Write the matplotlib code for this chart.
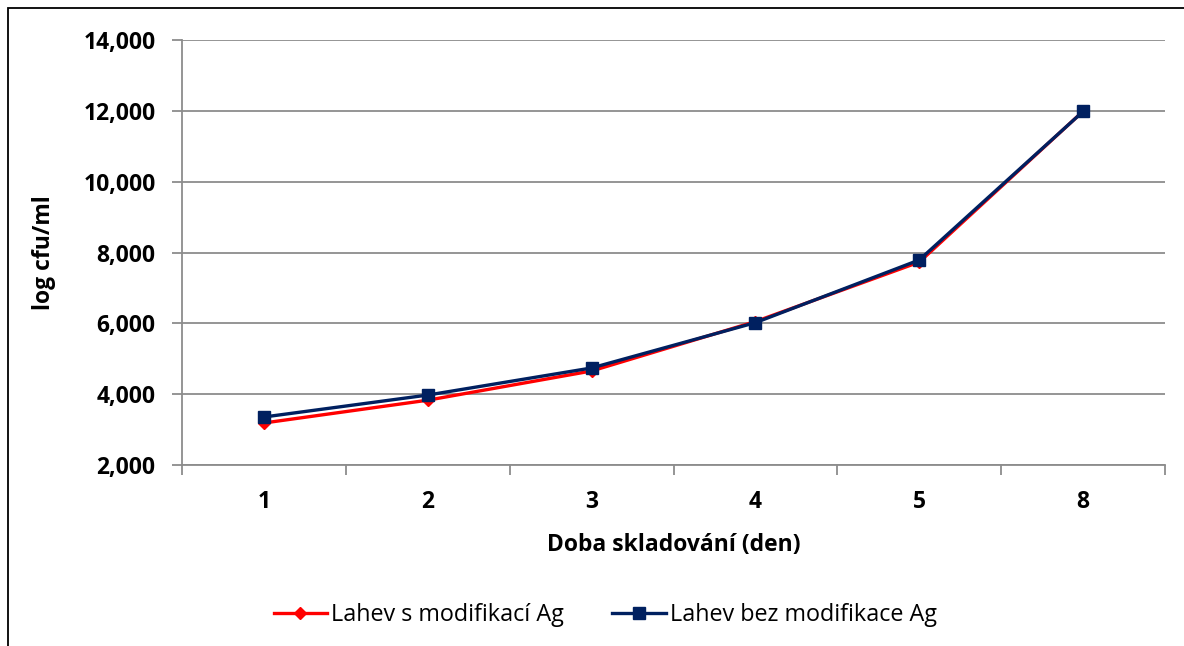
import matplotlib.pyplot as plt
from matplotlib.patches import Rectangle
from matplotlib.ticker import FuncFormatter

days = ['1', '2', '3', '4', '5', '8']
s_ag = [3186, 3830, 4655, 6050, 7730, 11990]      # Lahev s modifikací Ag
bez_ag = [3355, 3975, 4740, 6020, 7790, 11985]    # Lahev bez modifikace Ag

plt.rcParams['font.family'] = ['Open Sans', 'DejaVu Sans']

fig = plt.figure(figsize=(11.84, 6.46), dpi=100)
ax = fig.add_axes([0.1537, 0.2802, 0.8303, 0.6578])

x = list(range(len(days)))
ax.plot(x, s_ag, color='#ff0000', lw=2.4, marker='D', ms=6.5,
        label='Lahev s modifikací Ag', zorder=3)
ax.plot(x, bez_ag, color='#002060', lw=2.4, marker='s', ms=8,
        label='Lahev bez modifikace Ag', zorder=4)

ax.set_ylim(2000, 14000)
ax.set_yticks(range(2000, 14001, 2000))
ax.yaxis.set_major_formatter(FuncFormatter(lambda v, p: '{:,.0f}'.format(v)))
ax.set_xlim(-0.5, len(days) - 0.5)
ax.set_xticks(x)
ax.set_xticklabels(days)
ax.set_xticks([i - 0.5 for i in range(len(days) + 1)], minor=True)

ax.grid(axis='y', color='#8c8c8c', lw=1.3)
ax.set_axisbelow(True)
for s in ['top', 'right']:
    ax.spines[s].set_visible(False)
for s in ['left', 'bottom']:
    ax.spines[s].set_color('#8c8c8c')
    ax.spines[s].set_linewidth(1.3)

ax.tick_params(axis='y', length=7, width=1.3, color='#8c8c8c', labelsize=16.5, pad=12)
ax.tick_params(axis='x', which='major', length=0, labelsize=16.5, pad=18)
ax.tick_params(axis='x', which='minor', length=7, width=1.3, color='#8c8c8c')
for lab in ax.get_xticklabels() + ax.get_yticklabels():
    lab.set_fontweight('bold')

ax.set_xlabel('Doba skladování (den)', fontsize=16.5, fontweight='bold', labelpad=14)
ax.set_ylabel('log cfu/ml', fontsize=16.5, fontweight='bold', labelpad=20)

fig.legend(*ax.get_legend_handles_labels(), loc='center', bbox_to_anchor=(0.511, 0.048),
           ncol=2, frameon=False, fontsize=16.8, handlelength=2.3, handletextpad=0.17,
           columnspacing=2.05)

fig.patches.append(Rectangle((8 / 1184, -0.1), 1.2, 1 - 8 / 646 + 0.1, transform=fig.transFigure,
                             fill=False, edgecolor='black', lw=1.3))

fig.savefig('out.png', dpi=100)
